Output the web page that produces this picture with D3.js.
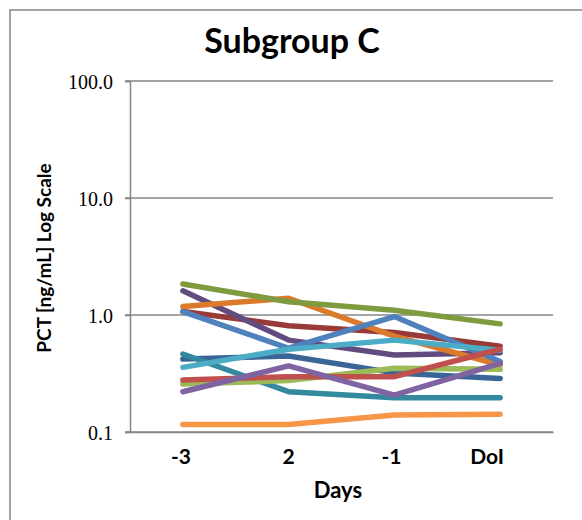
<!DOCTYPE html>
<html>
<head>
<meta charset="utf-8">
<script src="https://cdn.jsdelivr.net/npm/d3@7"></script>
<style>
  body { margin: 0; background: #fff; }
</style>
</head>
<body>
<div id="chart"></div>
<script>
// categories on the x axis
const days = ["-3", "2", "-1", "DoI"];
const yTicks = [0.1, 1, 10, 100];

// one array per patient line (PCT values, ng/mL), named by line colour
const blue = [1.07, 0.52, 0.97, 0.40];
const red = [0.278, 0.297, 0.297, 0.51];
const lightGreen = [0.257, 0.275, 0.35, 0.343];
const purple = [0.221, 0.367, 0.207, 0.386];
const aqua = [0.357, 0.51, 0.61, 0.50];
const lightOrange = [0.116, 0.116, 0.14, 0.142];
const darkBlue = [0.42, 0.446, 0.32, 0.287];
const darkRed = [1.07, 0.81, 0.71, 0.54];
const olive = [1.84, 1.30, 1.10, 0.84];
const darkPurple = [1.61, 0.61, 0.455, 0.476];
const teal = [0.464, 0.221, 0.196, 0.196];
const darkOrange = [1.18, 1.39, 0.66, 0.374];

// drawing order (later ones sit on top) and colours
const series = [
    { values: darkBlue, color: "#3A6697" },
    { values: darkRed, color: "#983A38" },
    { values: teal, color: "#34899F" },
    { values: darkPurple, color: "#624B7E" },
    { values: darkOrange, color: "#DC7A2C" },
    { values: olive, color: "#7E9B3F" },
    { values: blue, color: "#4F81BD" },
    { values: lightOrange, color: "#F79646" },
    { values: lightGreen, color: "#9BBB59" },
    { values: aqua, color: "#4BACC6" },
    { values: red, color: "#C0504D" },
    { values: purple, color: "#8064A2" }
];

const sansBold = "Lato, 'Open Sans', sans-serif";
const width = 582, height = 520;
const margin = { top: 81, right: 29, bottom: 88, left: 130 };

const svg = d3.select("#chart").append("svg")
    .attr("width", width)
    .attr("height", height);

// outer chart border (runs off the right and bottom of the picture)
svg.append("rect")
    .attr("x", 10).attr("y", 10)
    .attr("width", 600).attr("height", 540)
    .attr("fill", "none")
    .attr("stroke", "#868686")
    .attr("stroke-width", 1.5);

const x = d3.scaleBand()
    .domain(days)
    .range([margin.left, width - margin.right]);

const y = d3.scaleLog()
    .domain([0.1, 100])
    .range([height - margin.bottom, margin.top]);

// gridlines
svg.append("g")
    .selectAll("line")
    .data(yTicks)
    .enter().append("line")
    .attr("x1", margin.left - 5)
    .attr("x2", width - margin.right)
    .attr("y1", d => y(d))
    .attr("y2", d => y(d))
    .attr("stroke", "#868686")
    .attr("stroke-width", 1.5);

// y axis
const yAxis = svg.append("g")
    .attr("transform", `translate(${margin.left}, 0)`)
    .call(d3.axisLeft(y).tickValues(yTicks).tickFormat(d3.format(".1f")).tickSize(5).tickPadding(12));
yAxis.select(".domain").attr("stroke", "#868686").attr("stroke-width", 1.5);
yAxis.selectAll(".tick line").attr("stroke", "#868686").attr("stroke-width", 1.5);
yAxis.selectAll("text")
    .attr("dy", "0.36em")
    .style("font-family", "'Liberation Serif', 'Times New Roman', serif")
    .style("font-size", "20px")
    .style("fill", "#000");

// x axis
const labelShift = [-2, 0, -3, -13]; // Excel-ish label offsets
const xAxis = svg.append("g")
    .attr("transform", `translate(0, ${height - margin.bottom})`)
    .call(d3.axisBottom(x).tickSize(0).tickPadding(17));
xAxis.select(".domain").attr("stroke", "#868686").attr("stroke-width", 1.5);
xAxis.selectAll("text")
    .attr("dx", (d, i) => labelShift[i])
    .style("font-family", sansBold)
    .style("font-weight", "bold")
    .style("font-size", "21px")
    .style("fill", "#000");

// lines
const line = d3.line()
    .x((d, i) => x(days[i]) + x.bandwidth() / 2)
    .y(d => y(d));

svg.append("g")
    .selectAll("path")
    .data(series)
    .enter().append("path")
    .attr("d", d => line(d.values))
    .attr("fill", "none")
    .attr("stroke", d => d.color)
    .attr("stroke-width", 5.5)
    .attr("stroke-linecap", "round")
    .attr("stroke-linejoin", "round");

// title
svg.append("text")
    .attr("x", 292)
    .attr("y", 53)
    .attr("text-anchor", "middle")
    .style("font-family", sansBold)
    .style("font-weight", "bold")
    .style("font-size", "34px")
    .text("Subgroup C");

// x label
svg.append("text")
    .attr("x", 338)
    .attr("y", 498)
    .attr("text-anchor", "middle")
    .style("font-family", sansBold)
    .style("font-weight", "bold")
    .style("font-size", "22px")
    .text("Days");

// y label
svg.append("text")
    .attr("transform", "rotate(-90)")
    .attr("x", -258)
    .attr("y", 51)
    .attr("text-anchor", "middle")
    .style("font-family", sansBold)
    .style("font-weight", "bold")
    .style("font-size", "19px")
    .text("PCT [ng/mL] Log Scale");
</script>
</body>
</html>
